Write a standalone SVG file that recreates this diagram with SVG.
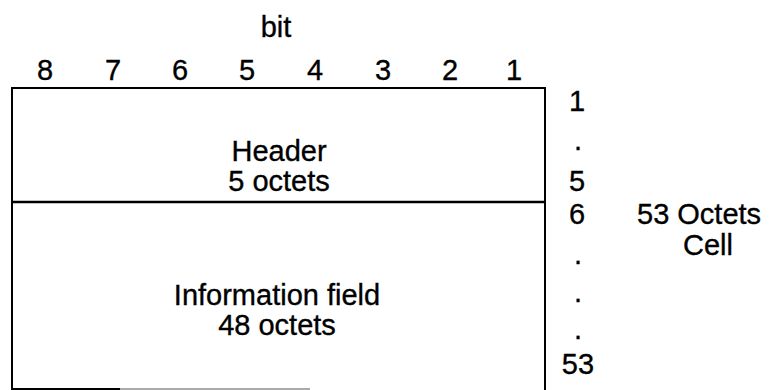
<svg xmlns="http://www.w3.org/2000/svg" width="778" height="390" viewBox="0 0 778 390">
  <style>
    text { font-family: "Liberation Sans", Arial, sans-serif; font-size: 29px; fill: #000; stroke: #000; stroke-width: 0.35; }
    .mid { text-anchor: middle; }
    .frame { stroke: #000; stroke-width: 2; fill: none; }
  </style>
  <rect width="778" height="390" fill="#fff"/>

  <!-- bit numbering -->
  <g id="bit-scale">
    <text class="mid" x="276" y="37">bit</text>
    <text class="mid" x="45" y="80">8</text>
    <text class="mid" x="113" y="80">7</text>
    <text class="mid" x="180" y="80">6</text>
    <text class="mid" x="247" y="80">5</text>
    <text class="mid" x="315" y="80">4</text>
    <text class="mid" x="383" y="80">3</text>
    <text class="mid" x="450" y="80">2</text>
    <text class="mid" x="514" y="80">1</text>
  </g>

  <!-- cell frame -->
  <g id="cell-frame">
    <polyline class="frame" points="12,390 12,88 545,88 545,390"/>
    <line x1="11" y1="389" x2="120" y2="389" stroke="#000" stroke-width="2"/>
    <line x1="120" y1="389" x2="310" y2="389" stroke="#aaa" stroke-width="2"/>
  </g>

  <g id="header">
    <line x1="12" y1="202" x2="545" y2="202" stroke="#000" stroke-width="2.5"/>
    <text class="mid" x="279" y="161">Header</text>
    <text class="mid" x="279" y="191">5 octets</text>
  </g>

  <g id="information-field">
    <text class="mid" x="277" y="305">Information field</text>
    <text class="mid" x="277" y="335">48 octets</text>
  </g>

  <!-- octet numbering -->
  <g id="octet-scale">
    <text class="mid" x="577" y="111">1</text>
    <text class="mid" x="578" y="150">.</text>
    <text class="mid" x="577" y="191">5</text>
    <text class="mid" x="577" y="224">6</text>
    <text class="mid" x="578" y="264">.</text>
    <text class="mid" x="578" y="302">.</text>
    <text class="mid" x="578" y="339">.</text>
    <text class="mid" x="578" y="374">53</text>
  </g>

  <g id="cell-size">
    <text x="637" y="224">53 Octets</text>
    <text class="mid" x="708" y="255">Cell</text>
  </g>
</svg>
